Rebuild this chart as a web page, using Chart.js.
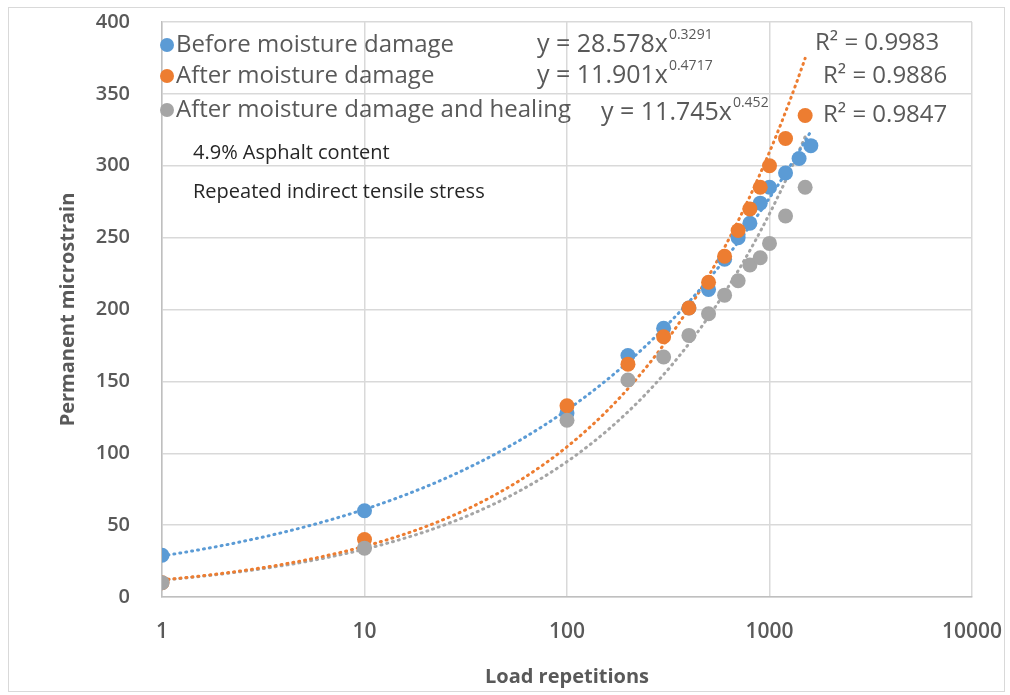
<!DOCTYPE html>
<html>
<head>
<meta charset="utf-8">
<script src="https://cdn.jsdelivr.net/npm/chart.js@4.4.0/dist/chart.umd.min.js"></script>
<style>
  html, body { margin: 0; background: #fff; }
</style>
</head>
<body>
<canvas id="chart" width="1010" height="695"></canvas>
<script>
// --- data ---
const seriesNames = ['Before moisture damage', 'After moisture damage', 'After moisture damage and healing'];
const seriesColors = ['#5B9BD5', '#ED7D31', '#A5A5A5'];

const beforeX = [1, 10, 100, 200, 300, 400, 500, 600, 700, 800, 900, 1000, 1200, 1400, 1600];
const beforeY = [29, 60, 128, 168, 187, 201, 214, 235, 250, 260, 274, 285, 295, 305, 314];

const afterX = [1, 10, 100, 200, 300, 400, 500, 600, 700, 800, 900, 1000, 1200, 1500];
const afterY = [10, 40, 133, 162, 181, 201, 219, 237, 255, 270, 285, 300, 319, 335];

const healX = [1, 10, 100, 200, 300, 400, 500, 600, 700, 800, 900, 1000, 1200, 1500];
const healY = [10, 34, 123, 151, 167, 182, 197, 210, 220, 231, 236, 246, 265, 285];

// power trendlines y = a * x^b as printed on the chart
const trendA = [28.578, 11.901, 11.745];
const trendB = [0.3291, 0.4717, 0.452];
const trendEnd = [1600, 1500, 1500];
const trendR2 = ['0.9983', '0.9886', '0.9847'];

const xTicks = [1, 10, 100, 1000, 10000];
const yTicks = [0, 50, 100, 150, 200, 250, 300, 350, 400];

const notes = ['4.9% Asphalt content', 'Repeated indirect tensile stress'];

function toPoints(xs, ys) {
    return xs.map((x, i) => ({ x: x, y: ys[i] }));
}

function trendPoints(i) {
    const pts = [];
    const n = 80;
    const top = Math.log10(trendEnd[i]);
    for (let k = 0; k <= n; k++) {
        const x = Math.pow(10, top * k / n);
        pts.push({ x: x, y: trendA[i] * Math.pow(x, trendB[i]) });
    }
    return pts;
}

const pointSets = [toPoints(beforeX, beforeY), toPoints(afterX, afterY), toPoints(healX, healY)];

// draw order: first dataset ends up on top
const datasets = [];
[2, 1, 0].forEach(i => {
    datasets.push({
        label: seriesNames[i],
        data: pointSets[i],
        showLine: false,
        pointRadius: 7.5,
        pointHoverRadius: 7.5,
        pointBackgroundColor: seriesColors[i],
        pointBorderColor: seriesColors[i],
        pointBorderWidth: 0
    });
});
[0, 1, 2].forEach(i => {
    datasets.push({
        label: 'trend ' + i,
        data: trendPoints(i),
        showLine: true,
        pointRadius: 0,
        borderColor: seriesColors[i],
        borderWidth: 3,
        borderDash: [1, 5],
        borderCapStyle: 'round',
        tension: 0
    });
});

const TEXT = '#595959';

function drawEquation(ctx, x, y, main, sup) {
    ctx.font = '25px "Open Sans"';
    ctx.textBaseline = 'middle';
    ctx.textAlign = 'left';
    ctx.fillText(main, x, y);
    const w = ctx.measureText(main).width;
    ctx.font = '14px "Open Sans"';
    ctx.fillText(sup, x + w + 1, y - 10);
}

const overlay = {
    id: 'overlay',
    beforeDraw(chart) {
        const ctx = chart.ctx;
        ctx.save();
        ctx.fillStyle = '#fff';
        ctx.fillRect(0, 0, chart.width, chart.height);
        ctx.restore();
    },
    afterDraw(chart) {
        const ctx = chart.ctx;
        ctx.save();
        // outer frame
        ctx.strokeStyle = '#d9d9d9';
        ctx.lineWidth = 1;
        ctx.strokeRect(8.5, 7.5, 996, 684);

        // legend entries
        const legendY = [45, 76, 110];
        seriesNames.forEach((name, i) => {
            ctx.fillStyle = seriesColors[i];
            ctx.beginPath();
            ctx.arc(167, legendY[i], 7, 0, Math.PI * 2);
            ctx.fill();
            ctx.fillStyle = TEXT;
            ctx.font = '24px "Open Sans"';
            ctx.textBaseline = 'middle';
            ctx.textAlign = 'left';
            ctx.fillText(name, 176, legendY[i]);
        });

        // trendline equations
        ctx.fillStyle = TEXT;
        const eqX = [537, 537, 601];
        const eqY = [45, 76, 113];
        const r2X = [815, 823, 823];
        const r2Y = [43, 76, 115];
        for (let i = 0; i < 3; i++) {
            drawEquation(ctx, eqX[i], eqY[i], 'y = ' + trendA[i] + 'x', String(trendB[i]));
            ctx.font = '24px "Open Sans"';
            ctx.textBaseline = 'middle';
            ctx.fillText('R² = ' + trendR2[i], r2X[i], r2Y[i]);
        }

        // notes
        ctx.fillStyle = '#262626';
        ctx.font = '20px "Open Sans"';
        ctx.fillText(notes[0], 193, 153);
        ctx.fillText(notes[1], 193, 192);
        ctx.restore();
    }
};

new Chart(document.getElementById('chart').getContext('2d'), {
    type: 'scatter',
    data: { datasets: datasets },
    options: {
        responsive: false,
        animation: false,
        layout: { padding: { top: 22, right: 38, left: 0, bottom: 0 } },
        plugins: {
            legend: { display: false },
            tooltip: { enabled: false }
        },
        scales: {
            x: {
                type: 'logarithmic',
                min: 1,
                max: 10000,
                afterBuildTicks: (scale) => { scale.ticks = xTicks.map(v => ({ value: v })); },
                afterFit: (scale) => { scale.height = 98; },
                ticks: {
                    color: TEXT,
                    padding: 0,
                    font: { family: 'Open Sans', size: 21, weight: '600' },
                    callback: (v) => String(v)
                },
                grid: { color: '#d9d9d9', lineWidth: 1.5, drawTicks: true, tickLength: 22, tickColor: 'rgba(0,0,0,0)' },
                border: { color: '#bfbfbf', width: 1.5 },
                title: {
                    display: true,
                    text: 'Load repetitions',
                    color: TEXT,
                    padding: { top: 0, bottom: 6 },
                    font: { family: 'Open Sans', size: 20, weight: 'bold' }
                }
            },
            y: {
                min: 0,
                max: 400,
                afterBuildTicks: (scale) => { scale.ticks = yTicks.map(v => ({ value: v })); },
                afterFit: (scale) => { scale.width = 162; },
                ticks: {
                    color: TEXT,
                    padding: 4,
                    font: { family: 'Open Sans', size: 20, weight: '600' }
                },
                grid: { color: '#d9d9d9', lineWidth: 1.5, drawTicks: true, tickLength: 28, tickColor: 'rgba(0,0,0,0)' },
                border: { color: '#bfbfbf', width: 1.5 },
                title: {
                    display: true,
                    text: 'Permanent microstrain',
                    color: TEXT,
                    padding: { top: 56, bottom: 0 },
                    font: { family: 'Open Sans', size: 20, weight: 'bold' }
                }
            }
        }
    },
    plugins: [overlay]
});
</script>
</body>
</html>
